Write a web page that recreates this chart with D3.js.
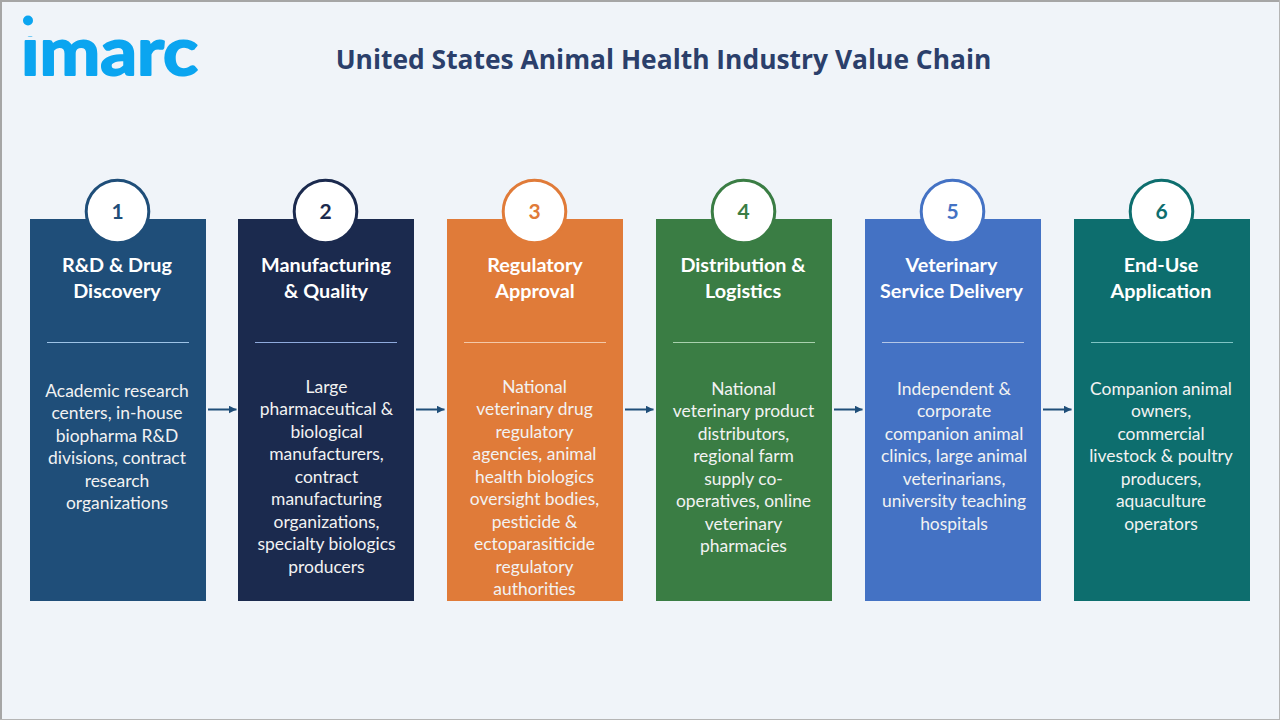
<!DOCTYPE html>
<html>
<head>
<meta charset="utf-8">
<script src="https://cdn.jsdelivr.net/npm/d3@7"></script>
<style>
  html, body { margin: 0; padding: 0; background: #f0f4f9; overflow: hidden; }
  svg { display: block; font-family: Lato, "Open Sans", sans-serif; }
</style>
</head>
<body>
<script>
  let chartTitle = "United States Animal Health Industry Value Chain";
  let logoText = "imarc";
  let stepNumbers = ["1", "2", "3", "4", "5", "6"];
  let stepTitles = [
    ["R&D & Drug", "Discovery"],
    ["Manufacturing", "& Quality"],
    ["Regulatory", "Approval"],
    ["Distribution &", "Logistics"],
    ["Veterinary", "Service Delivery"],
    ["End-Use", "Application"]
  ];
  let stepBodies = [
    ["Academic research", "centers, in-house", "biopharma R&D", "divisions, contract", "research", "organizations"],
    ["Large", "pharmaceutical &", "biological", "manufacturers,", "contract", "manufacturing", "organizations,", "specialty biologics", "producers"],
    ["National", "veterinary drug", "regulatory", "agencies, animal", "health biologics", "oversight bodies,", "pesticide &", "ectoparasiticide", "regulatory", "authorities"],
    ["National", "veterinary product", "distributors,", "regional farm", "supply co-", "operatives, online", "veterinary", "pharmacies"],
    ["Independent &", "corporate", "companion animal", "clinics, large animal", "veterinarians,", "university teaching", "hospitals"],
    ["Companion animal", "owners,", "commercial", "livestock & poultry", "producers,", "aquaculture", "operators"]
  ];
  let cardColors = ["#1f4e79", "#1b2a4e", "#e07b39", "#3a7d44", "#4472c4", "#0d6e6e"];
  let dividerColors = ["#9dc3e6", "#8faadc", "#f4c9a8", "#a9d1ae", "#b4c7e7", "#7fc4c4"];
  // the text blocks are not quite centred in the original, per card nudges
  let bodyTops = [391, 387, 387, 389, 389, 389];
  let bodyShift = [-1, 0.5, -0.5, -0.5, 1, -1];
  let titleShift = [-1, 0, 0, -1, -1.5, -1];

  let width = 1280;
  let height = 720;

  let svg = d3.select("body").append("svg")
    .attr("width", width).attr("height", height);

  svg.append("rect")
    .attr("width", width)
    .attr("height", height)
    .style("fill", "#f0f4f9");

  // grey frame, heavier on the top and left
  svg.append("rect").attr("width", width).attr("height", 2).style("fill", "#a6a6a6");
  svg.append("rect").attr("width", 2).attr("height", height).style("fill", "#a6a6a6");
  svg.append("rect").attr("x", width - 1).attr("width", 1).attr("height", height).style("fill", "#b5b5b5");
  svg.append("rect").attr("y", height - 1).attr("width", width).attr("height", 1).style("fill", "#b5b5b5");

  // logo: clip off the font's own i dot, the logo's sits higher
  let defs = svg.append("defs");
  defs.append("clipPath").attr("id", "logoClip")
    .append("rect")
    .attr("x", 0).attr("y", 36).attr("width", 260).attr("height", 60);

  svg.append("circle")
    .attr("cx", 28).attr("cy", 20.5).attr("r", 5)
    .style("fill", "#0ba5f0");
  svg.append("text")
    .text(logoText)
    .attr("x", 21).attr("y", 75)
    .attr("textLength", 177)
    .attr("lengthAdjust", "spacingAndGlyphs")
    .attr("clip-path", "url(#logoClip)")
    .style("font-size", "67px")
    .style("font-weight", 700)
    .style("fill", "#0ba5f0")
    .style("stroke", "#0ba5f0")
    .style("stroke-width", 2)
    .style("stroke-linejoin", "round");

  svg.append("text")
    .text(chartTitle)
    .attr("x", 663.5).attr("y", 69)
    .attr("text-anchor", "middle")
    .style("font-family", "'Open Sans'")
    .style("font-size", "26.4px")
    .style("font-weight", 700)
    .style("fill", "#2b3f6b");

  let x = d3.scaleBand()
    .domain(stepNumbers)
    .range([30, 1250])
    .paddingInner(32.8 / 208.8);

  let cardLeft = d => Math.floor(x(d));

  let arrowColor = "#1f4e79";
  defs.append("marker")
    .attr("id", "arrowhead")
    .attr("viewBox", "0 0 8 8")
    .attr("refX", 8).attr("refY", 4)
    .attr("markerWidth", 8).attr("markerHeight", 8)
    .attr("markerUnits", "userSpaceOnUse")
    .attr("orient", "auto")
    .append("path")
    .attr("d", "M0,0L8,4L0,8Z")
    .style("fill", arrowColor);

  svg.append("g")
    .selectAll("line")
    .data(stepNumbers.slice(0, -1))
    .enter()
    .append("line")
    .attr("x1", d => cardLeft(d) + x.bandwidth() + 2)
    .attr("x2", d => cardLeft(d) + x.bandwidth() + 30.5)
    .attr("y1", 409.5).attr("y2", 409.5)
    .attr("marker-end", "url(#arrowhead)")
    .style("stroke", arrowColor)
    .style("stroke-width", 2);

  let cards = svg.append("g")
    .selectAll("g")
    .data(stepNumbers)
    .enter()
    .append("g")
    .attr("transform", d => "translate(" + cardLeft(d) + ",0)");

  let bw = Math.round(x.bandwidth());
  let cx = bw / 2;

  cards.append("rect")
    .attr("y", 219)
    .attr("width", bw)
    .attr("height", 382)
    .style("fill", (d, i) => cardColors[i]);

  cards.append("circle")
    .attr("cx", cx - 0.5).attr("cy", 211.5).attr("r", 31.3)
    .style("fill", "#ffffff")
    .style("stroke", (d, i) => cardColors[i])
    .style("stroke-width", 3);

  cards.append("text")
    .text(d => d)
    .attr("x", cx - 0.5).attr("y", 218.5)
    .attr("text-anchor", "middle")
    .style("font-size", "21px")
    .style("font-weight", 700)
    .style("fill", (d, i) => cardColors[i]);

  cards.append("line")
    .attr("x1", 17).attr("x2", bw - 17)
    .attr("y1", 342.5).attr("y2", 342.5)
    .style("stroke", (d, i) => dividerColors[i])
    .style("stroke-width", 1);

  cards.each(function(d, i) {
    let card = d3.select(this);
    card.selectAll("text.title")
      .data(stepTitles[i])
      .enter()
      .append("text")
      .attr("class", "title")
      .text(t => t)
      .attr("x", cx + titleShift[i])
      .attr("y", (t, j) => 272.3 + j * 26)
      .attr("text-anchor", "middle")
      .style("font-size", "19.8px")
      .style("font-weight", 700)
      .style("fill", "#ffffff");

    card.selectAll("text.body")
      .data(stepBodies[i])
      .enter()
      .append("text")
      .attr("class", "body")
      .text(t => t)
      .attr("x", cx + bodyShift[i])
      .attr("y", (t, j) => bodyTops[i] + 6 + j * 22.45)
      .attr("text-anchor", "middle")
      .style("font-size", "17.45px")
      .style("fill", "#f2f2f2");
  });
</script>
</body>
</html>
